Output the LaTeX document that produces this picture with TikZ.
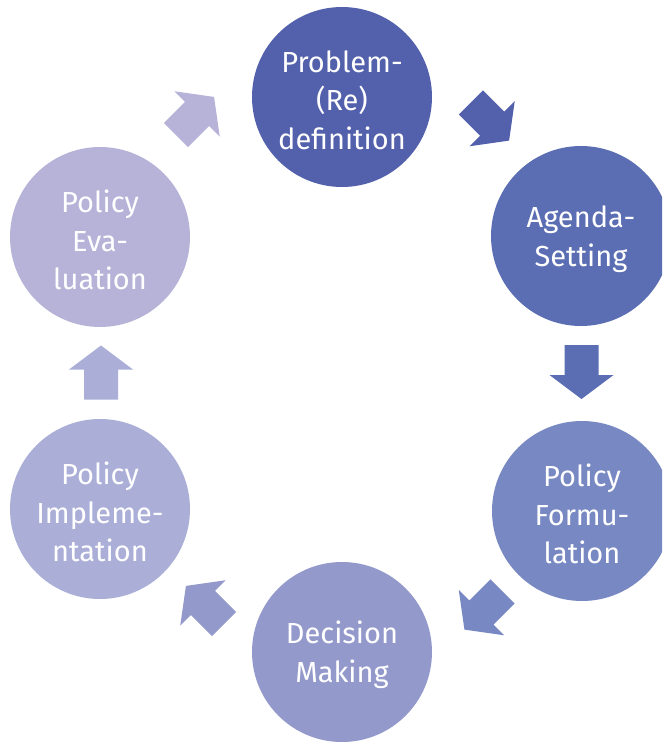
\documentclass[tikz,border=0pt]{standalone}
\usepackage{fontspec}
\setmainfont{Fira Sans}
\definecolor{cP}{HTML}{5361AC}
\definecolor{cA}{HTML}{5C6EB3}
\definecolor{cF}{HTML}{7888C3}
\definecolor{cD}{HTML}{9399CB}
\definecolor{cI}{HTML}{ABAFD8}
\definecolor{cE}{HTML}{B7B3D8}
\begin{document}
\begin{tikzpicture}[x=1pt,y=-1pt,
  stage/.style={circle, minimum size=180pt, inner sep=0pt},
  stagetext/.style={text=white, align=center, inner sep=0pt,
    font=\fontsize{29}{38.5}\selectfont},
  pics/blockarrow/.style={code={\fill[#1] (-27,-17) -- (3,-17) -- (3,-32) -- (27,0) -- (3,32) -- (3,17) -- (-27,17) -- cycle;}}]
\clip (0,0) rectangle (662,742);
\node[stage, fill=cP] (prob) at (342,97) {};
\node[stage, fill=cA] (agen) at (581,236) {};
\node[stage, fill=cF] (form) at (582,511) {};
\node[stage, fill=cD] (deci) at (342,652) {};
\node[stage, fill=cI] (impl) at (100,509) {};
\node[stage, fill=cE] (eval) at (100,237) {};
\node[stagetext] (probt) at ([yshift=-3pt]prob.center) {Problem-\\(Re)\\definition};
\node[stagetext] (agent) at ([yshift=-3pt]agen.center) {Agenda-\\Setting};
\node[stagetext] (formt) at ([yshift=-3pt]form.center) {Policy\\Formu-\\lation};
\node[stagetext] (decit) at ([yshift=-3pt]deci.center) {Decision\\Making};
\node[stagetext] (implt) at ([yshift=-3pt]impl.center) {Policy\\Impleme-\\ntation};
\node[stagetext] (evalt) at ([yshift=-3pt]eval.center) {Policy\\Eva-\\luation};
\pic[rotate=-45] at (490,121.5) {blockarrow=cP};
\pic[rotate=-90] at (581.5,372) {blockarrow=cA};
\pic[rotate=-135] at (483.5,610.5) {blockarrow=cF};
\pic[rotate=135] at (205,605) {blockarrow=cD};
\pic[rotate=90] at (101,372.5) {blockarrow=cI};
\pic[rotate=45] at (195,116) {blockarrow=cE};
\end{tikzpicture}
\end{document}
